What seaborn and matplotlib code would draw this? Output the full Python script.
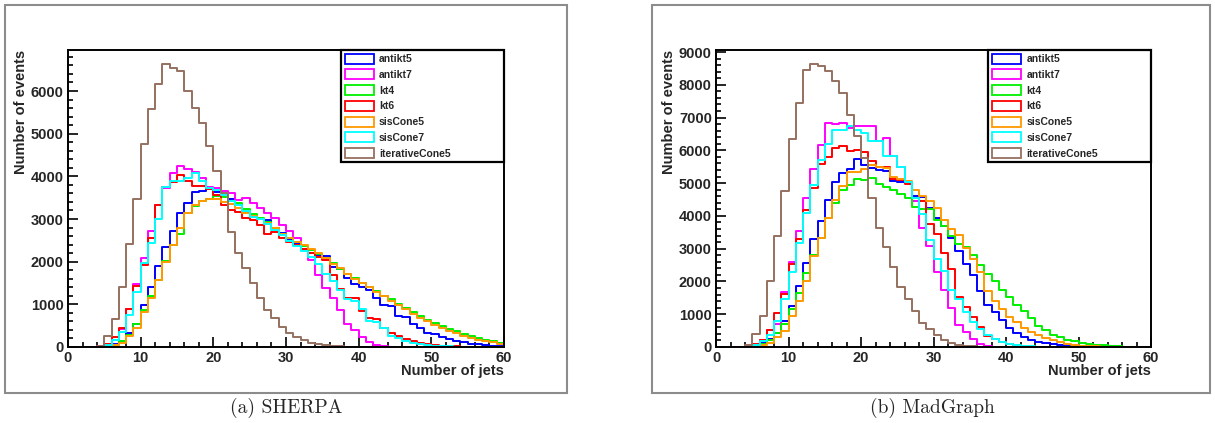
import numpy as np
import pandas as pd
import matplotlib
matplotlib.use("Agg")
import matplotlib.pyplot as plt
import seaborn as sns
from matplotlib.patches import Rectangle, Patch
from matplotlib.ticker import MultipleLocator

# ---- jet-multiplicity histograms: one unit-wide bin per jet count, 0..59 ----
jet_range = (0, 60)

algorithms = ["antikt5", "antikt7", "kt4", "kt6", "sisCone5", "sisCone7", "iterativeCone5"]

# SHERPA
sherpa_antikt5 = [0, 0, 0, 0, 0, 20, 80, 150, 320, 550, 980, 1400, 1900, 2340, 2720,
                  3150, 3370, 3640, 3660, 3700, 3640, 3570, 3460, 3330, 3160, 3050, 3000, 2970, 2800, 2680,
                  2520, 2420, 2300, 2200, 2150, 2130, 1880, 1820, 1620, 1480, 1400, 1330, 1150, 980, 950,
                  720, 700, 550, 450, 320, 300, 240, 180, 130, 110, 80, 60, 45, 35, 25]
sherpa_antikt7 = [0, 0, 0, 0, 20, 60, 170, 430, 900, 1480, 2090, 2720, 3320, 3730, 4090,
                  4240, 4180, 4100, 3960, 3760, 3730, 3650, 3600, 3450, 3500, 3380, 3250, 3130, 3020, 2870,
                  2730, 2560, 2300, 2040, 1680, 1390, 1140, 870, 550, 390, 240, 120, 55, 25, 10,
                  5, 0, 0, 0, 0, 0, 0, 0, 0, 0, 0, 0, 0, 0, 0]
sherpa_kt4 = [0, 0, 0, 0, 0, 10, 50, 150, 280, 550, 870, 1200, 1560, 2020, 2390,
              2660, 3130, 3300, 3430, 3460, 3540, 3520, 3430, 3380, 3230, 3120, 3020, 2920, 2780, 2660,
              2560, 2460, 2360, 2270, 2170, 2080, 1960, 1830, 1700, 1620, 1500, 1400, 1310, 1200, 1130,
              1010, 920, 820, 730, 640, 560, 500, 430, 370, 300, 250, 200, 160, 130, 100]
sherpa_kt6 = [0, 0, 0, 0, 10, 60, 230, 450, 900, 1420, 1930, 2560, 3340, 3740, 3860,
              4020, 3880, 3770, 3780, 3700, 3560, 3330, 3200, 3160, 3030, 2980, 2850, 2650, 2700, 2560,
              2470, 2380, 2300, 2200, 2110, 2030, 1690, 1370, 1160, 1150, 850, 670, 660, 440, 330,
              250, 190, 130, 90, 65, 45, 30, 20, 12, 6, 3, 0, 0, 0, 0]
sherpa_sisCone5 = [0, 0, 0, 0, 0, 10, 40, 100, 250, 450, 820, 1140, 1560, 1990, 2390,
                   2780, 3130, 3330, 3430, 3470, 3470, 3400, 3360, 3260, 3150, 3060, 3000, 2900, 2780, 2640,
                   2560, 2470, 2380, 2290, 2200, 2080, 1950, 1860, 1720, 1600, 1500, 1400, 1300, 1200, 1080,
                   980, 880, 780, 690, 600, 510, 450, 380, 320, 260, 220, 170, 140, 110, 70]
sherpa_sisCone7 = [0, 0, 0, 0, 10, 40, 170, 340, 760, 1280, 1960, 2430, 3000, 3750, 3900,
                   3880, 3970, 4080, 3880, 3720, 3680, 3560, 3430, 3330, 3180, 3050, 2990, 2890, 2740, 2620,
                   2480, 2360, 2250, 2120, 1950, 1700, 1540, 1340, 1130, 1080, 880, 600, 580, 450, 260,
                   200, 150, 100, 70, 50, 35, 25, 15, 8, 4, 0, 0, 0, 0, 0]
sherpa_iterativeCone5 = [0, 0, 0, 0, 30, 260, 650, 1400, 2420, 3460, 4750, 5580, 6160, 6630, 6550,
                         6460, 6010, 5610, 5260, 4700, 4120, 3600, 2690, 2210, 1840, 1500, 1160, 870, 670, 460,
                         330, 240, 160, 100, 65, 40, 25, 15, 8, 4, 2, 0, 0, 0, 0,
                         0, 0, 0, 0, 0, 0, 0, 0, 0, 0, 0, 0, 0, 0, 0]

# MadGraph
madgraph_antikt5 = [0, 0, 0, 0, 10, 30, 110, 230, 430, 800, 1250, 1850, 2550, 3280, 3850,
                    4470, 5020, 5310, 5420, 5730, 5550, 5460, 5400, 5360, 5070, 5030, 5000, 4620, 4570, 4230,
                    3950, 3700, 3340, 2920, 2530, 2190, 1720, 1280, 1080, 820, 590, 430, 300, 220, 160,
                    115, 85, 60, 40, 25, 15, 8, 4, 0, 0, 0, 0, 0, 0, 0]
madgraph_antikt7 = [0, 0, 0, 0, 10, 50, 200, 510, 700, 1690, 2590, 3550, 4560, 5430, 6170,
                    6830, 6790, 6840, 6690, 6740, 6740, 6740, 6280, 6370, 5840, 5480, 5020, 4460, 3640, 3070,
                    2300, 1740, 1180, 665, 460, 255, 100, 40, 15, 5, 0, 0, 0, 0, 0,
                    0, 0, 0, 0, 0, 0, 0, 0, 0, 0, 0, 0, 0, 0, 0]
madgraph_kt4 = [0, 0, 0, 0, 10, 40, 90, 200, 420, 700, 1150, 1640, 2260, 2800, 3330,
                3950, 4380, 4800, 4950, 5120, 5100, 5150, 4970, 4890, 4800, 4680, 4560, 4280, 4200, 4200,
                3890, 3690, 3380, 3150, 3040, 2820, 2490, 2220, 2020, 1740, 1540, 1280, 1100, 870, 645,
                510, 380, 310, 225, 175, 133, 100, 70, 50, 35, 25, 15, 10, 5, 3]
madgraph_kt6 = [0, 0, 0, 0, 20, 80, 200, 520, 1030, 1630, 2520, 3300, 4170, 4840, 5590,
                5790, 6080, 6140, 5990, 6010, 5940, 5690, 5480, 5480, 5140, 5090, 4970, 4560, 4460, 3760,
                3450, 2870, 2390, 1520, 1210, 920, 600, 330, 230, 150, 100, 60, 30, 15, 8,
                0, 0, 0, 0, 0, 0, 0, 0, 0, 0, 0, 0, 0, 0, 0]
madgraph_sisCone5 = [0, 0, 0, 0, 5, 20, 60, 130, 310, 500, 960, 1400, 2000, 2780, 3330,
                     3950, 4480, 4920, 5330, 5330, 5430, 5560, 5480, 5450, 5180, 5130, 5050, 4800, 4620, 4450,
                     4250, 3890, 3600, 3430, 3020, 2690, 2300, 1710, 1400, 1160, 920, 750, 585, 460, 360,
                     275, 205, 155, 100, 70, 45, 30, 20, 12, 8, 4, 0, 0, 0, 0]
madgraph_sisCone7 = [0, 0, 0, 0, 10, 50, 180, 360, 790, 1455, 2275, 3165, 4100, 4950, 5720,
                     6200, 6630, 6630, 6730, 6630, 6540, 6300, 6300, 5840, 5840, 5480, 5020, 4560, 4050, 3250,
                     2670, 2330, 1740, 1470, 1060, 770, 545, 380, 235, 150, 100, 70, 40, 20, 10,
                     0, 0, 0, 0, 0, 0, 0, 0, 0, 0, 0, 0, 0, 0, 0]
madgraph_iterativeCone5 = [0, 0, 0, 0, 50, 390, 940, 2000, 3400, 4760, 6350, 7450, 8450, 8630, 8580,
                           8420, 8120, 7740, 7090, 6430, 5770, 4560, 3640, 3050, 2440, 1840, 1455, 1100, 740, 545,
                           360, 225, 133, 70, 40, 20, 10, 5, 0, 0, 0, 0, 0, 0, 0,
                           0, 0, 0, 0, 0, 0, 0, 0, 0, 0, 0, 0, 0, 0, 0]

captions = ["(a) SHERPA", "(b) MadGraph"]

palette = {
    "antikt5": "#0000ff",
    "antikt7": "#ff00ff",
    "kt4": "#00f000",
    "kt6": "#ff0000",
    "sisCone5": "#ff9900",
    "sisCone7": "#00ffff",
    "iterativeCone5": "#957060",
}

sherpa = dict(zip(algorithms, [sherpa_antikt5, sherpa_antikt7, sherpa_kt4, sherpa_kt6,
                               sherpa_sisCone5, sherpa_sisCone7, sherpa_iterativeCone5]))
madgraph = dict(zip(algorithms, [madgraph_antikt5, madgraph_antikt7, madgraph_kt4, madgraph_kt6,
                                 madgraph_sisCone5, madgraph_sisCone7, madgraph_iterativeCone5]))

n_bins = jet_range[1] - jet_range[0]
centers = np.arange(jet_range[0], jet_range[1]) + 0.5


def long_table(sample):
    rows = []
    for alg in algorithms:
        for c, n in zip(centers, sample[alg]):
            rows.append({"jets": c, "events": n, "algorithm": alg})
    return pd.DataFrame(rows)


sns.set_style("white")
plt.rcParams["font.family"] = ["Liberation Sans", "DejaVu Sans"]
plt.rcParams["font.weight"] = "bold"

W, H = 1215, 423
fig = plt.figure(figsize=(W / 100, H / 100), dpi=100)
fig.patch.set_facecolor("white")

panels = [
    dict(sample=sherpa, frame=(5, 5, 567, 393), axes=(68, 50, 504, 347), caption_x=286),
    dict(sample=madgraph, frame=(652, 5, 1210, 393), axes=(716, 50, 1151, 347), caption_x=932),
]

for p, cap in zip(panels, captions):
    x0, y0, x1, y1 = p["axes"]
    ax = fig.add_axes([x0 / W, 1 - y1 / H, (x1 - x0) / W, (y1 - y0) / H])
    df = long_table(p["sample"])
    for alg in algorithms:
        sub = df[df["algorithm"] == alg]
        sns.histplot(data=sub, x="jets", weights="events", bins=n_bins, binrange=jet_range,
                     element="step", fill=False, color=palette[alg],
                     linewidth=1.4, ax=ax)
    peak = max(max(v) for v in p["sample"].values())
    ax.set_xlim(*jet_range)
    ax.set_ylim(0, 1.05 * peak)

    ax.xaxis.set_major_locator(MultipleLocator(10))
    ax.xaxis.set_minor_locator(MultipleLocator(2))
    ax.yaxis.set_major_locator(MultipleLocator(1000))
    ax.yaxis.set_minor_locator(MultipleLocator(200))
    ax.tick_params(which="both", direction="in", top=False, right=False,
                   bottom=True, left=True, width=1.2, color="black")
    ax.tick_params(which="major", length=7, labelsize=10.5, pad=3)
    ax.tick_params(which="minor", length=3.5)
    for lbl in ax.get_xticklabels() + ax.get_yticklabels():
        lbl.set_fontweight("bold")
    for s in ax.spines.values():
        s.set_color("black")
        s.set_linewidth(1.4)

    ax.set_ylabel("Number of events", fontsize=10.5, fontweight="bold", loc="top")
    ax.yaxis.set_label_coords(-0.092, 1.0)
    ax.set_xlabel("Number of jets", fontsize=10.5, fontweight="bold", loc="right")
    ax.xaxis.set_label_coords(1.0, -0.058)

    handles = [Patch(facecolor="white", edgecolor=palette[a], linewidth=1.3, label=a)
               for a in algorithms]
    leg = ax.legend(handles=handles, loc="upper left",
                    bbox_to_anchor=(0.626, 0.62, 0.374, 0.38), mode="expand",
                    fontsize=7.5, handlelength=2.8, handleheight=1.1,
                    handletextpad=0.5, labelspacing=0.5, borderpad=0.35,
                    borderaxespad=0, fancybox=False, framealpha=1,
                    edgecolor="black")
    leg.get_frame().set_linewidth(1.6)
    for t in leg.get_texts():
        t.set_fontweight("bold")

    fx0, fy0, fx1, fy1 = p["frame"]
    fig.add_artist(Rectangle((fx0 / W, 1 - fy1 / H), (fx1 - fx0) / W, (fy1 - fy0) / H,
                             transform=fig.transFigure, fill=False,
                             edgecolor="#8c8c8c", linewidth=1.5))
    fig.text(p["caption_x"] / W, 1 - 408 / H, cap, ha="center", va="center",
             fontsize=14, family="cmr10", fontweight="normal")

fig.savefig("out.png", dpi=100)
